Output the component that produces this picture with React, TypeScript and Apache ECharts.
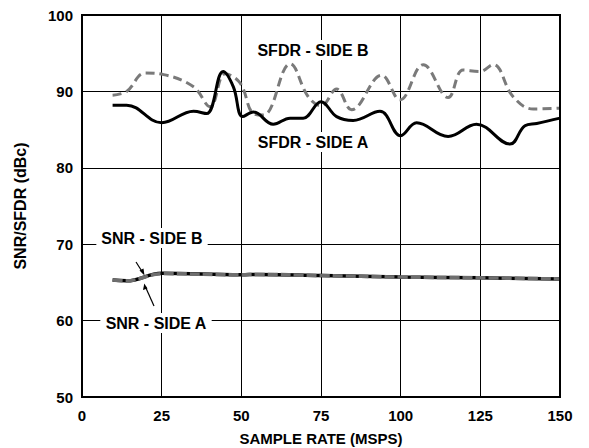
import React, { useEffect, useRef } from "react";
import * as echarts from "echarts";

const sfdrSideA: [number, number][] = [
  [9.6, 88.2], [14, 88.2], [25, 85.9], [35, 87.4], [39.1, 87.1], [44.3, 92.6],
  [47.5, 90.6], [50.4, 86.7], [53.8, 87.3], [60, 85.7], [65.3, 86.5], [69.4, 86.5],
  [75, 88.65], [79.9, 86.7], [85.1, 86.2], [93.5, 87.4], [100, 84.2], [105, 85.9],
  [114.9, 84.1], [123.8, 85.7], [134.3, 83.1], [139, 85.5], [142.7, 85.8], [150, 86.5],
];

const sfdrSideB: [number, number][] = [
  [9.6, 89.5], [14, 90.0], [19.8, 92.4], [25.6, 92.2], [35, 90.6], [40.2, 88.0],
  [44.9, 92.3], [49.6, 91.1], [53.8, 87.1], [56.9, 86.9], [65.3, 93.6], [71, 89.3],
  [75, 88.1], [79.9, 90.3], [84.6, 87.6], [94, 92.1], [99.8, 88.9], [107.1, 93.5],
  [114.9, 89.2], [119.6, 92.8], [124.8, 92.6], [129, 93.5], [135.3, 89.3],
  [141.6, 87.7], [150, 87.8],
];

const snrSideA: [number, number][] = [
  [9.6, 65.3], [14, 65.2], [25, 66.2], [50, 66.0], [55, 66.05], [75, 65.9],
  [100, 65.7], [125, 65.6], [150, 65.45],
];

const snrSideB: [number, number][] = [
  [9.6, 65.3], [14, 65.2], [25, 66.15], [50, 66.0], [55, 66.05], [75, 65.9],
  [100, 65.7], [125, 65.6], [150, 65.45],
];

const xTicks = [0, 25, 50, 75, 100, 125, 150];
const yTicks = [50, 60, 70, 80, 90, 100];

const FONT = "'Liberation Sans', Arial, sans-serif";

export default function App() {
  const ref = useRef<HTMLDivElement>(null);
  useEffect(() => {
    if (!ref.current) return;
    const chart = echarts.init(ref.current, undefined, { renderer: "svg" });
    const textStyle = (t: string, x: number, y: number) => ({
      type: "text",
      x,
      y,
      z: 100,
      style: {
        text: t,
        fill: "#000",
        font: `bold 16px ${FONT}`,
        align: "center",
        verticalAlign: "middle",
        backgroundColor: "#fff",
        padding: [2, 5],
      },
    });
    chart.setOption({
      animation: false,
      backgroundColor: "#fff",
      grid: { left: 82, right: 29, top: 15, bottom: 51, show: false, outerBoundsMode: "none", containLabel: false },
      xAxis: {
        type: "value",
        min: xTicks[0],
        max: xTicks[xTicks.length - 1],
        interval: 25,
        name: "SAMPLE RATE (MSPS)",
        nameLocation: "middle",
        nameGap: 34,
        nameTextStyle: { fontFamily: FONT, fontWeight: "bold", fontSize: 15, color: "#000" },
        axisLine: { show: false },
        axisTick: { show: false },
        axisLabel: { margin: 11, fontFamily: FONT, fontWeight: "bold", fontSize: 15, color: "#000" },
        splitLine: { show: true, lineStyle: { color: "#000", width: 1 } },
      },
      yAxis: {
        type: "value",
        min: yTicks[0],
        max: yTicks[yTicks.length - 1],
        interval: 10,
        axisLine: { show: false },
        axisTick: { show: false },
        axisLabel: { margin: 9, fontFamily: FONT, fontWeight: "bold", fontSize: 15, color: "#000" },
        splitLine: { show: true, lineStyle: { color: "#000", width: 1 } },
      },
      series: [
        {
          type: "line",
          name: "SFDR - SIDE B",
          data: sfdrSideB,
          smooth: 0.4,
          symbol: "none",
          lineStyle: { color: "#7a7a7a", width: 3, type: [9, 5] },
          z: 3,
        },
        {
          type: "line",
          name: "SFDR - SIDE A",
          data: sfdrSideA,
          smooth: 0.4,
          symbol: "none",
          lineStyle: { color: "#000", width: 3 },
          z: 4,
        },
        {
          type: "line",
          name: "SNR - SIDE A",
          data: snrSideA,
          smooth: 0.4,
          symbol: "none",
          lineStyle: { color: "#000", width: 3.5 },
          z: 5,
        },
        {
          type: "line",
          name: "SNR - SIDE B",
          data: snrSideB,
          smooth: 0.4,
          symbol: "none",
          lineStyle: { color: "#6e6e6e", width: 3.5, type: [10, 3] },
          z: 6,
        },
      ],
      graphic: [
        {
          type: "rect",
          shape: { x: 82, y: 15, width: 478, height: 382 },
          style: { fill: "none", stroke: "#000", lineWidth: 2 },
          z: 50,
        },
        textStyle("SFDR - SIDE B", 313, 50),
        textStyle("SFDR - SIDE A", 313, 142),
        textStyle("SNR - SIDE B", 152, 238),
        textStyle("SNR - SIDE A", 156, 323),
        {
          type: "line",
          shape: { x1: 136, y1: 262, x2: 143, y2: 273 },
          style: { stroke: "#000", lineWidth: 1.2 },
          z: 60,
        },
        {
          type: "polygon",
          shape: { points: [[144.5, 275.5], [139.5, 270.5], [143.5, 268.5]] },
          style: { fill: "#000" },
          z: 60,
        },
        {
          type: "line",
          shape: { x1: 154, y1: 306, x2: 145.5, y2: 287 },
          style: { stroke: "#000", lineWidth: 1.2 },
          z: 60,
        },
        {
          type: "polygon",
          shape: { points: [[144.3, 283.5], [143, 290], [147.5, 288.5]] },
          style: { fill: "#000" },
          z: 60,
        },
        {
          type: "text",
          x: 20,
          y: 206,
          rotation: Math.PI / 2,
          style: {
            text: "SNR/SFDR (dBc)",
            fill: "#000",
            font: `bold 16px ${FONT}`,
            align: "center",
            verticalAlign: "middle",
          },
        },
      ],
    });
    return () => chart.dispose();
  }, []);
  return <div ref={ref} style={{ width: 589, height: 448, position: "absolute", left: 0, top: 0 }} />;
}
